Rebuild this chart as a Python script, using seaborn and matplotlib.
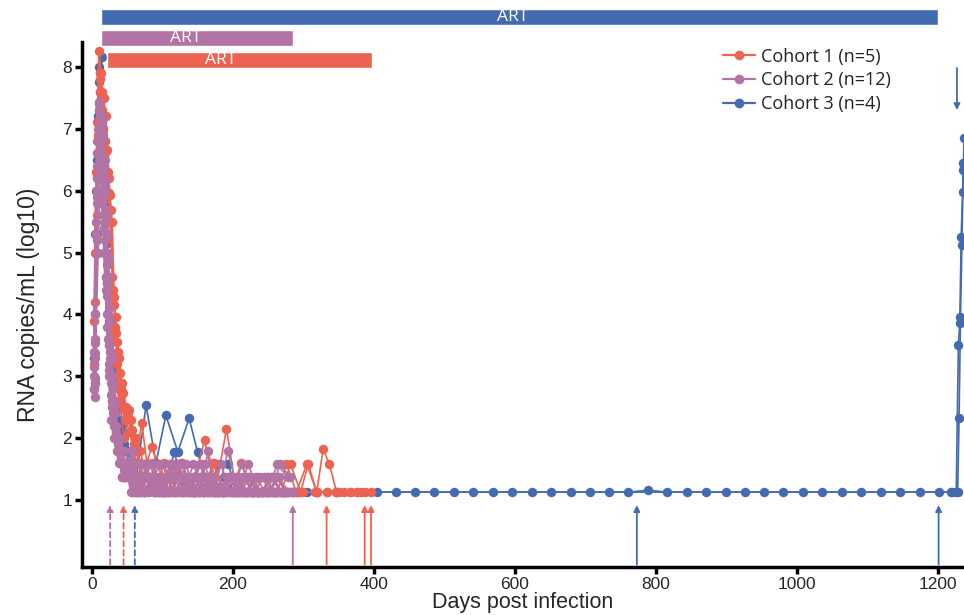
import matplotlib
matplotlib.use("Agg")
import matplotlib.pyplot as plt
from matplotlib.lines import Line2D
import seaborn as sns
import pandas as pd

# viral load per subject, days post infection / log10 RNA copies per mL
cohort1_days = [
    [3, 6, 10, 13, 17, 20, 24, 27, 31, 35, 38, 43, 50, 57, 64, 71, 78, 85, 99, 113, 127, 141, 160, 175, 191, 205, 220, 235, 250, 263, 276, 290, 305, 319, 333],
    [4, 8, 11, 15, 18, 22, 25, 29, 32, 36, 40, 44, 51, 58, 65, 72, 86, 100, 114, 128, 142, 156, 170, 184, 198, 212, 226, 240, 254, 268, 282, 296, 307, 319, 328, 337, 347, 357, 366, 376, 387],
    [5, 9, 12, 16, 19, 23, 26, 30, 34, 37, 41, 48, 55, 62, 69, 76, 90, 104, 118, 132, 146, 160, 174, 188, 202, 216, 230, 244, 258, 272, 286, 300, 316, 333, 350, 368, 382, 396],
    [3, 7, 10, 14, 17, 21, 24, 28, 33, 39, 46, 53, 60, 67, 74, 88, 102, 116, 130, 144, 158, 172, 186, 200, 214, 228, 242, 260],
    [4, 8, 12, 15, 19, 22, 26, 29, 33, 36, 40, 47, 54, 61, 68, 82, 96, 110, 124, 138, 152, 166, 180, 194, 208, 222, 236, 250, 264, 278, 292],
]
cohort1_rna = [
    [3.9, 6.3, 8.26, 7.9, 7.5, 7.2, 6.2, 5.69, 4.28, 3.7, 3.3, 2.9, 2.42, 2.13, 1.8, 2.24, 1.6, 1.86, 1.38, 1.13, 1.6, 1.13, 1.97, 1.13, 2.15, 1.13, 1.38, 1.13, 1.13, 1.13, 1.58, 1.13, 1.58, 1.13, 1.13],
    [2.9, 5.6, 7.8, 7.6, 6.8, 6.65, 5.96, 5.5, 4.15, 3.55, 3.05, 2.73, 2.4, 1.8, 1.6, 1.38, 1.6, 1.13, 1.38, 1.6, 1.13, 1.13, 1.38, 1.13, 1.13, 1.6, 1.13, 1.13, 1.38, 1.13, 1.58, 1.13, 1.58, 1.13, 1.82, 1.58, 1.13, 1.13, 1.13, 1.13, 1.13],
    [4.2, 6.9, 7.6, 7.0, 6.6, 6.3, 5.93, 4.4, 3.96, 3.4, 2.8, 2.5, 2.3, 2.0, 1.8, 1.38, 1.13, 1.13, 1.13, 1.38, 1.13, 1.13, 1.6, 1.13, 1.13, 1.13, 1.13, 1.38, 1.13, 1.13, 1.13, 1.13, 1.13, 1.13, 1.13, 1.13, 1.13, 1.13],
    [3.2, 6.0, 7.3, 7.1, 6.4, 5.0, 4.6, 3.6, 3.3, 2.6, 2.0, 2.45, 1.9, 1.6, 1.38, 1.13, 1.6, 1.13, 1.13, 1.38, 1.13, 1.6, 1.13, 1.13, 1.38, 1.13, 1.13, 1.13],
    [5.0, 7.1, 7.9, 7.3, 6.8, 6.3, 5.5, 4.6, 3.8, 3.2, 2.6, 2.3, 2.1, 1.9, 1.6, 1.38, 1.13, 1.38, 1.13, 1.13, 1.13, 1.38, 1.13, 1.13, 1.13, 1.38, 1.13, 1.13, 1.13, 1.13, 1.13],
]

cohort2_days = [
    [4, 7, 10, 14, 17, 21, 24, 28, 35, 42, 49, 56, 63, 70, 77, 84, 91, 98, 105, 119, 133, 147, 161, 175, 189, 203, 217, 231, 245, 259, 273, 285],
    [4, 8, 11, 15, 18, 22, 25, 29, 36, 43, 50, 57, 64, 71, 85, 99, 113, 127, 141, 155, 169, 183, 197, 211, 225, 239, 253, 267, 281],
    [3, 6, 9, 13, 16, 20, 23, 27, 34, 41, 48, 55, 62, 69, 83, 97, 111, 125, 139, 153, 165, 179, 193, 207, 221, 235, 249, 263, 278],
    [5, 8, 12, 15, 19, 22, 26, 30, 37, 44, 51, 58, 65, 72, 86, 100, 114, 129, 143, 157, 171, 185, 199, 213, 227, 241, 255, 270, 284],
    [4, 7, 11, 14, 18, 21, 25, 28, 32, 39, 46, 53, 60, 74, 88, 102, 116, 130, 144, 158, 172, 186, 200, 214, 228, 242, 256, 270],
    [3, 7, 10, 14, 17, 21, 24, 27, 31, 38, 45, 52, 59, 66, 80, 94, 108, 122, 136, 150, 164, 178, 192, 206, 220, 234, 248, 262, 276],
    [4, 8, 11, 15, 18, 21, 25, 28, 33, 40, 47, 54, 61, 68, 82, 96, 110, 124, 138, 152, 166, 180, 194, 208, 222, 236, 250, 264, 280],
    [5, 9, 12, 16, 19, 23, 26, 30, 35, 42, 49, 56, 63, 70, 84, 98, 112, 126, 140, 154, 168, 182, 196, 210, 224, 238, 252, 266],
    [3, 6, 10, 13, 17, 20, 24, 27, 31, 37, 44, 51, 58, 72, 86, 100, 114, 128, 142, 156, 170, 184, 198, 212, 226, 240, 254, 268, 282],
    [4, 7, 11, 14, 18, 21, 24, 29, 34, 41, 48, 55, 62, 76, 90, 104, 118, 132, 146, 160, 174, 188, 202, 216, 230, 244, 258, 272],
    [5, 8, 12, 15, 19, 22, 26, 29, 36, 43, 50, 57, 64, 78, 92, 106, 120, 134, 148, 162, 176, 190, 204, 218, 232, 246, 260, 274],
    [3, 7, 10, 13, 17, 20, 23, 27, 32, 39, 46, 53, 60, 67, 81, 95, 109, 123, 137, 151, 165, 179, 193, 207, 221, 235, 249, 263, 277],
]
cohort2_rna = [
    [3.54, 5.8, 7.43, 6.9, 5.6, 4.3, 3.5, 2.6, 2.0, 1.6, 1.38, 1.79, 1.38, 1.13, 1.38, 1.58, 1.13, 1.38, 1.13, 1.13, 1.58, 1.13, 1.38, 1.13, 1.13, 1.38, 1.13, 1.13, 1.38, 1.13, 1.13, 1.13],
    [3.37, 6.4, 7.2, 6.5, 5.2, 4.0, 3.1, 2.5, 1.8, 1.38, 1.58, 1.6, 1.13, 1.38, 1.58, 1.13, 1.58, 1.38, 1.13, 1.38, 1.13, 1.58, 1.13, 1.13, 1.38, 1.13, 1.13, 1.58, 1.37],
    [3.15, 5.5, 7.0, 6.6, 5.9, 4.6, 3.6, 2.9, 2.2, 1.79, 1.58, 1.38, 1.13, 1.58, 1.38, 1.13, 1.58, 1.13, 1.38, 1.13, 1.79, 1.13, 1.38, 1.38, 1.13, 1.13, 1.13, 1.58, 1.37],
    [2.97, 6.2, 6.8, 6.3, 5.7, 4.5, 3.3, 2.4, 1.9, 1.6, 1.38, 1.79, 1.38, 1.13, 1.38, 1.58, 1.13, 1.58, 1.13, 1.38, 1.38, 1.13, 1.13, 1.58, 1.13, 1.13, 1.38, 1.13, 1.13],
    [2.66, 5.2, 6.6, 7.1, 6.0, 5.3, 4.1, 3.3, 2.5, 2.0, 1.79, 1.58, 1.38, 1.13, 1.38, 1.13, 1.58, 1.13, 1.58, 1.13, 1.38, 1.13, 1.38, 1.13, 1.13, 1.13, 1.38, 1.13],
    [2.8, 6.0, 7.3, 6.0, 5.0, 3.8, 3.0, 2.3, 2.0, 1.6, 1.38, 1.58, 1.38, 1.13, 1.38, 1.13, 1.38, 1.58, 1.13, 1.38, 1.13, 1.13, 1.38, 1.38, 1.13, 1.13, 1.13, 1.13, 1.13],
    [4.0, 6.6, 7.0, 6.8, 6.2, 5.3, 4.6, 3.0, 2.4, 2.0, 1.6, 1.38, 1.58, 1.13, 1.38, 1.58, 1.13, 1.38, 1.13, 1.13, 1.38, 1.13, 1.38, 1.13, 1.58, 1.13, 1.13, 1.38, 1.13],
    [3.3, 5.0, 6.4, 6.9, 6.1, 4.9, 3.9, 2.8, 2.1, 1.79, 1.38, 1.58, 1.13, 1.38, 1.58, 1.13, 1.38, 1.38, 1.13, 1.58, 1.13, 1.13, 1.38, 1.13, 1.13, 1.13, 1.13, 1.38],
    [3.0, 5.3, 6.2, 6.7, 5.4, 4.4, 3.2, 2.7, 2.2, 1.8, 1.38, 1.58, 1.13, 1.38, 1.38, 1.13, 1.58, 1.13, 1.38, 1.58, 1.13, 1.13, 1.38, 1.13, 1.13, 1.38, 1.13, 1.13, 1.13],
    [3.6, 6.2, 6.9, 6.3, 5.5, 4.8, 3.5, 2.6, 2.0, 1.6, 1.58, 1.13, 1.38, 1.58, 1.13, 1.38, 1.13, 1.38, 1.13, 1.58, 1.13, 1.13, 1.13, 1.38, 1.13, 1.13, 1.13, 1.13],
    [2.9, 5.9, 6.8, 7.2, 6.5, 5.0, 3.4, 2.9, 2.0, 1.38, 1.58, 1.13, 1.38, 1.13, 1.38, 1.13, 1.38, 1.13, 1.13, 1.38, 1.13, 1.13, 1.13, 1.13, 1.38, 1.13, 1.13, 1.13],
    [3.4, 6.8, 7.4, 7.0, 6.4, 5.6, 4.0, 3.4, 2.6, 1.79, 1.38, 1.58, 1.13, 1.38, 1.13, 1.38, 1.13, 1.58, 1.13, 1.38, 1.13, 1.13, 1.79, 1.13, 1.38, 1.13, 1.13, 1.13, 1.13],
]

cohort3_days = [
    [3, 7, 10, 14, 17, 21, 25, 30, 35, 42, 49, 56, 63, 77, 91, 105, 122, 138, 150, 165, 180, 193, 207, 220, 234, 248, 262, 276, 292, 318, 347, 376,
     404, 431, 459, 486, 514, 541, 569, 596, 624, 651, 679, 706, 734, 761, 789, 816, 844, 871, 899, 926, 954, 981, 1009, 1036, 1064, 1091, 1119,
     1146, 1174, 1201, 1220, 1228, 1230, 1232, 1234, 1236, 1237],
    [3, 6, 10, 13, 17, 20, 24, 28, 33, 40, 47, 54, 61, 75, 89, 103, 117, 131, 145, 159, 173, 187, 201, 215, 229, 243, 257, 271, 285,
     1218, 1226, 1229, 1231, 1233, 1235, 1236],
    [4, 8, 11, 15, 18, 22, 26, 31, 38, 45, 52, 59, 66, 80, 94, 108, 122, 136, 150, 164, 178, 192, 206, 220, 234, 248, 262, 276, 290, 305, 320, 348],
    [5, 9, 12, 16, 19, 23, 27, 32, 39, 46, 53, 60, 67, 74, 88, 102, 116, 130, 144, 158, 172, 186, 200, 214, 228, 242, 256, 270],
]
cohort3_rna = [
    [2.8, 5.3, 8.0, 8.15, 5.77, 5.15, 4.28, 3.1, 2.5, 2.2, 1.8, 1.6, 1.38, 2.53, 1.6, 2.37, 1.78, 2.32, 1.78, 1.13, 1.58, 1.58, 1.13, 1.13, 1.37, 1.37, 1.37, 1.13, 1.13, 1.13, 1.13, 1.13,
     1.13, 1.13, 1.13, 1.13, 1.13, 1.13, 1.13, 1.13, 1.13, 1.13, 1.13, 1.13, 1.13, 1.13, 1.16, 1.13, 1.13, 1.13, 1.13, 1.13, 1.13, 1.13, 1.13, 1.13, 1.13, 1.13, 1.13,
     1.13, 1.13, 1.13, 1.13, 1.13, 2.32, 3.96, 5.12, 6.33, 6.85],
    [3.3, 6.0, 7.75, 7.0, 6.0, 4.6, 3.9, 3.0, 2.4, 2.0, 1.6, 1.38, 1.13, 1.13, 1.38, 1.13, 1.78, 1.13, 1.13, 1.13, 1.13, 1.38, 1.13, 1.13, 1.13, 1.13, 1.13, 1.13, 1.13,
     1.13, 1.13, 3.5, 3.86, 5.25, 5.98, 6.44],
    [4.0, 6.5, 7.6, 6.8, 5.5, 4.5, 3.6, 2.9, 2.3, 1.9, 1.6, 1.38, 1.13, 1.38, 1.13, 1.13, 1.13, 1.38, 1.13, 1.13, 1.13, 1.13, 1.38, 1.13, 1.13, 1.13, 1.13, 1.13, 1.13, 1.13, 1.13, 1.13],
    [5.3, 7.2, 7.9, 7.0, 5.9, 4.9, 3.9, 3.1, 2.6, 2.1, 1.8, 1.6, 1.38, 1.13, 1.13, 1.13, 1.13, 1.13, 1.13, 1.13, 1.13, 1.13, 1.13, 1.13, 1.13, 1.13, 1.13, 1.13],
]

cohort_labels = ["Cohort 1 (n=5)", "Cohort 2 (n=12)", "Cohort 3 (n=4)"]
cohort_colors = ["#EC6352", "#B473A5", "#446AB0"]

# ART periods per cohort
art_start = [21, 13, 13]
art_end = [397, 286, 1200]
art_level = [8.11, 8.46, 8.80]
art_text_day = [183, 133, 597]

# arrows under the curves: day, cohort index, dashed or not
arrow_days = [26, 45, 61, 285, 333, 387, 396, 773, 1201]
arrow_cohort = [1, 0, 2, 1, 0, 0, 0, 2, 2]
arrow_dashed = [True, True, True, False, False, False, False, False, False]
rebound_arrow_day = 1227

rows = []
for ci, (days_list, rna_list) in enumerate([(cohort1_days, cohort1_rna),
                                            (cohort2_days, cohort2_rna),
                                            (cohort3_days, cohort3_rna)]):
    for si, (d, v) in enumerate(zip(days_list, rna_list)):
        n = min(len(d), len(v))
        for k in range(n):
            rows.append({"cohort": ci, "subject": f"{ci}_{si}", "day": d[k], "rna": v[k]})
df = pd.DataFrame(rows)

sns.set_style("ticks")
plt.rcParams["font.family"] = ["Liberation Sans", "DejaVu Sans"]

fig = plt.figure(figsize=(9.64, 6.15), dpi=100)
ax = fig.add_axes([0.085, 0.078, 0.915, 0.8537])

# blue first, then red, purple on top
for ci in [2, 0, 1]:
    sub = df[df["cohort"] == ci]
    sns.lineplot(data=sub, x="day", y="rna", units="subject", estimator=None,
                 sort=False, color=cohort_colors[ci], marker="o", markersize=6.8,
                 markeredgewidth=0, linewidth=1.2, legend=False, ax=ax)

ax.set_xlim(-14, 1237)
ax.set_ylim(-0.08, 8.4)
ax.set_xticks([0, 200, 400, 600, 800, 1000, 1200])
ax.set_yticks([1, 2, 3, 4, 5, 6, 7, 8])
ax.set_xlabel("Days post infection", fontsize=15.5, labelpad=0)
ax.set_ylabel("RNA copies/mL (log10)", fontsize=16.5, labelpad=16)
for lab in ax.get_xticklabels() + ax.get_yticklabels():
    lab.set_family(["Liberation Sans Narrow", "Liberation Sans"])
    lab.set_fontsize(12.5)
ax.tick_params(axis="both", width=2.5, length=5, pad=2, color="black")
sns.despine(ax=ax)
for side in ["left", "bottom"]:
    ax.spines[side].set_linewidth(2.5)
    ax.spines[side].set_color("black")

# ART bars above the plot
for ci in range(3):
    ax.barh(art_level[ci], art_end[ci] - art_start[ci], left=art_start[ci], height=0.255,
            color=cohort_colors[ci], clip_on=False, zorder=3)
    ax.text(art_text_day[ci], art_level[ci], "ART", color="white", ha="center", va="center",
            fontsize=12.5, family="Open Sans", clip_on=False, zorder=4)

# arrows marking ART interruption
for d, c, dashed in zip(arrow_days, arrow_cohort, arrow_dashed):
    ax.annotate("", xy=(d, 0.92), xytext=(d, -0.04),
                arrowprops=dict(arrowstyle="-|>", color=cohort_colors[c], lw=1.3,
                                linestyle=(0, (3, 2)) if dashed else "-",
                                mutation_scale=9, shrinkA=0, shrinkB=0))
ax.annotate("", xy=(rebound_arrow_day, 7.3), xytext=(rebound_arrow_day, 7.98),
            arrowprops=dict(arrowstyle="-|>", color=cohort_colors[2], lw=1.3,
                            mutation_scale=9, shrinkA=0, shrinkB=0))

handles = [Line2D([0], [0], color=c, lw=1.6, marker="o", markersize=7, markeredgewidth=0)
           for c in cohort_colors]
leg = ax.legend(handles, cohort_labels, loc="upper left", bbox_to_anchor=(0.733, 0.949),
                bbox_transform=fig.transFigure, frameon=False, handlelength=1.8,
                handletextpad=0.3, labelspacing=0.32, prop={"family": "Open Sans", "size": 13})
for t in leg.get_texts():
    t.set_color("#222222")

fig.savefig("out.png", dpi=100)
